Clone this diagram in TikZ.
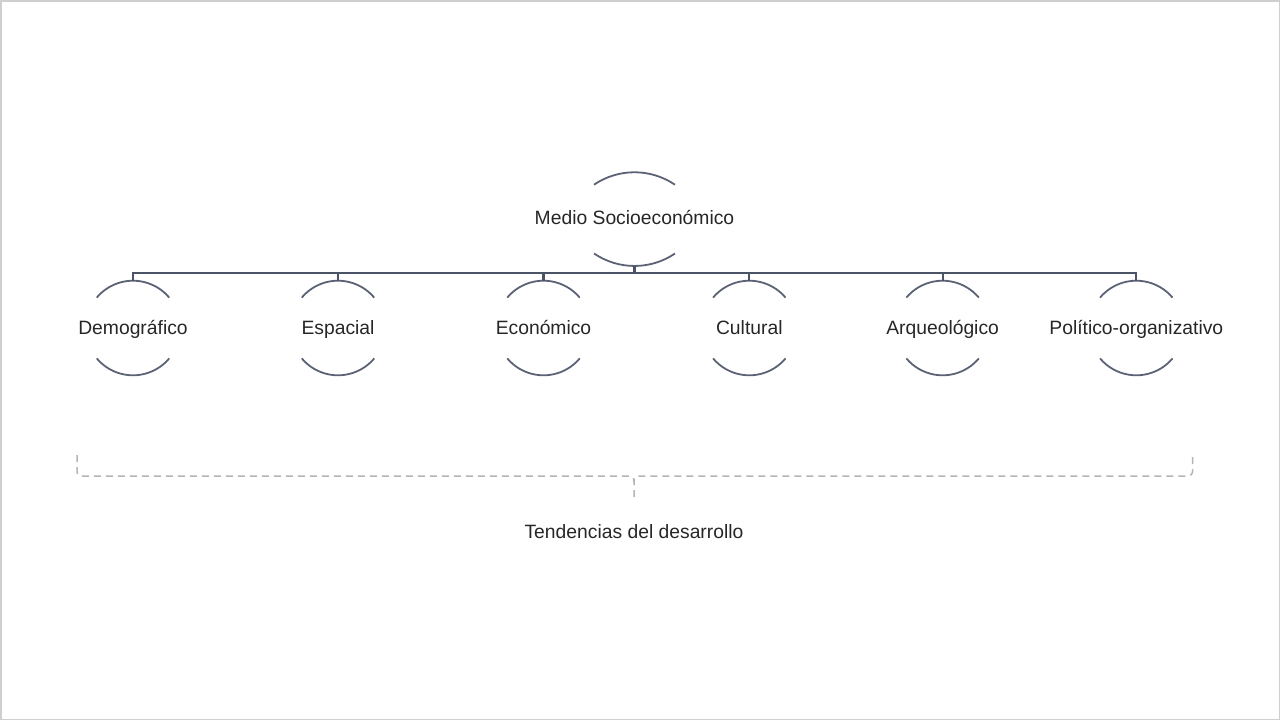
\documentclass[tikz,border=0pt]{standalone}
\usepackage{fontspec}
\setmainfont{Liberation Sans}
\usetikzlibrary{calc}
\definecolor{txt}{HTML}{262626}
\definecolor{arcc}{HTML}{5B6275}
\definecolor{busc}{HTML}{4A5466}
\definecolor{brc}{HTML}{B4B4B4}
\definecolor{frm}{HTML}{CFCFCF}
\begin{document}
\begin{tikzpicture}[x=0.5pt,y=-0.5pt,
  lbl/.style={font=\fontsize{9.65pt}{11pt}\selectfont, text=txt, inner sep=0pt, anchor=base},
  arcline/.style={draw=arcc, line width=0.9pt},
  busline/.style={draw=busc, line width=1.1pt},
  bracel/.style={draw=brc, line width=0.75pt, dash pattern=on 3.5pt off 2.5pt}]
\useasboundingbox (0,0) rectangle (1280,720);
\draw[frm, line width=0.75pt] (0.75,0.75) rectangle (1279.25,719.25);
% top node
\node[lbl] (ms) at (634.5,224) {Medio Socioeconómico};
\coordinate (msc) at (634.5,218);
\coordinate (msb) at (634.5,266);
\draw[arcline] ($(msc)+(-40.5,-33.3)$) arc[start angle=235.8, end angle=304.2, radius=72];
\draw[arcline] ($(msc)+(40.5,35.5)$) arc[start angle=55.8, end angle=124.2, radius=72];
\coordinate (bus) at (0,273);
% children
\foreach \n/\x/\t in {d/133/Demográfico, e/338/Espacial, c/543.5/Económico, u/749.3/Cultural, a/942.6/Arqueológico, p/1136.3/Político-organizativo}{
  \node[lbl] (\n) at (\x,334) {\t};
  \coordinate (\n-c) at (\x,328);
  \coordinate (\n-t) at (\x,280.7);
  \draw[arcline] ($(\n-c)+(220:47.3)$) arc[start angle=220, end angle=320, radius=47.3];
  \draw[arcline] ($(\n-c)+(40:47.3)$) arc[start angle=40, end angle=140, radius=47.3];
  \draw[busline] (msb) -- (msb |- bus) -| (\n-t);
}
% brace
\coordinate (bl) at (77,455);
\coordinate (br) at (1192.7,457);
\coordinate (bm) at (634,497);
\draw[bracel] (bl) -- (77,470) .. controls (77,474) and (78,476) .. (82,476) -- (626,476)
  .. controls (632,476) and (634,477) .. (634,482) -- (bm);
\draw[bracel] (br) -- (1192.7,470) .. controls (1192.7,474) and (1191,476) .. (1187,476) -- (642,476)
  .. controls (636,476) and (634,477) .. (634,482);
\node[lbl] (td) at (634,538.5) {Tendencias del desarrollo};
\end{tikzpicture}
\end{document}
